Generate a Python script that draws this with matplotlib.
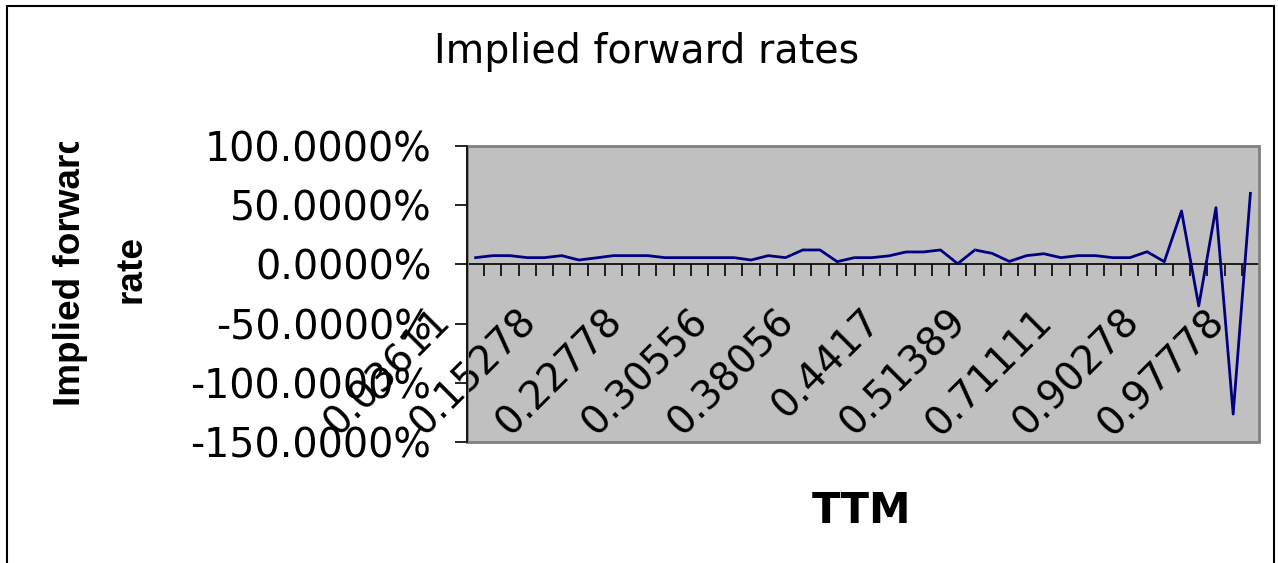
import numpy as np
import matplotlib
matplotlib.use('Agg')
import matplotlib.pyplot as plt
import matplotlib.transforms as mtransforms
from matplotlib import font_manager
from matplotlib.patches import Rectangle
from matplotlib.ticker import FuncFormatter, FixedLocator

# implied forward rate per TTM category (in %)
fwd_rates = [5.7, 7.4, 7.4, 5.7, 5.7, 7.4, 3.7, 5.5, 7.4, 7.4,
             7.4, 5.7, 5.7, 5.7, 5.7, 5.7, 3.7, 7.4, 5.7, 12.2,
             12.2, 2.3, 5.7, 5.7, 7.2, 10.5, 10.5, 12.2, 0.6, 12.2,
             9.3, 2.5, 7.4, 9.0, 5.7, 7.4, 7.4, 5.7, 5.7, 10.7,
             2.3, 45.1, -35.1, 47.9, -126.4, 60.0]
ttm_labels = ['0.03611', '0.15278', '0.22778', '0.30556', '0.38056',
              '0.4417', '0.51389', '0.71111', '0.90278', '0.97778']
label_step = 5
y_ticks = [-150, -100, -50, 0, 50, 100]

# Arial-like bold for the y label (pick the regular-width file, not Narrow)
bold_file = None
for f in font_manager.findSystemFonts():
    if f.endswith('LiberationSans-Bold.ttf'):
        bold_file = f
        break
if bold_file:
    ylab_font = font_manager.FontProperties(fname=bold_file, size=26.6)
else:
    ylab_font = font_manager.FontProperties(family='DejaVu Sans', weight='bold', size=22)

W, H = 1278, 563
fig = plt.figure(figsize=(W / 100, H / 100), dpi=100)
fig.patch.set_facecolor('white')

# outer chart border
fig.patches.append(Rectangle((7 / W, -0.02), (1274 - 7) / W, 1 - 6 / H + 0.02,
                             transform=fig.transFigure, fill=False,
                             edgecolor='black', linewidth=1.5))

ax = fig.add_axes([467 / W, 1 - 442 / H, (1259 - 467) / W, (442 - 146) / H])
ax.set_facecolor('#C0C0C0')

x = np.arange(len(fwd_rates))
ax.plot(x, fwd_rates, color='#000080', linewidth=2, zorder=3)

ax.set_xlim(-0.5, len(fwd_rates) - 0.5)
ax.set_ylim(-150, 100)

# plot area frame
ax.add_patch(Rectangle((0, 0), 1, 1, transform=ax.transAxes, fill=False,
                       edgecolor='#808080', linewidth=2, clip_on=False, zorder=4))
for s in ['top', 'right']:
    ax.spines[s].set_visible(False)
ax.spines['left'].set_color('black')
ax.spines['left'].set_linewidth(1.2)
ax.spines['left'].set_zorder(5)
ax.spines['bottom'].set_position(('data', 0))
ax.spines['bottom'].set_color('black')
ax.spines['bottom'].set_linewidth(1.2)

# y axis
ax.yaxis.set_major_locator(FixedLocator(y_ticks))
ax.yaxis.set_major_formatter(FuncFormatter(lambda v, p: f'{v:.4f}%'))
ax.tick_params(axis='y', direction='out', length=8.5, width=1.2, pad=17,
               labelsize=28.5, colors='black')

# x axis: labels every 5 categories, tick marks between categories
ax.set_xticks(x[::label_step])
ax.set_xticklabels(ttm_labels, rotation=45, ha='right', fontsize=28)
ax.set_xticks(np.arange(0.5, len(fwd_rates) - 0.5, 1), minor=True)
ax.tick_params(axis='x', which='major', length=0, pad=27)
ax.tick_params(axis='x', which='minor', direction='out', length=8.5, width=1.2, colors='black')
shift = mtransforms.ScaledTranslation(-18 / 100, 0, fig.dpi_scale_trans)
for lab in ax.get_xticklabels():
    lab.set_transform(lab.get_transform() + shift)

# titles
fig.text(647 / W, 1 - 63 / H, 'Implied forward rates', ha='center', va='baseline',
         fontsize=28.5)
fig.text(862 / W, 1 - 523 / H, 'TTM', ha='center', va='baseline',
         fontsize=30, fontweight='bold')

clip = mtransforms.Bbox.from_extents(0, 0, W, H - 142)
t1 = fig.text(70 / W, 1 - 269 / H, 'Implied forward', rotation=90, ha='center', va='center',
              fontproperties=ylab_font)
t1.set_clip_box(clip)
t1.set_clip_on(True)
fig.text(131 / W, 1 - 269 / H, 'rate', rotation=90, ha='center', va='center',
         fontproperties=ylab_font)

fig.savefig('out.png', dpi=100)
